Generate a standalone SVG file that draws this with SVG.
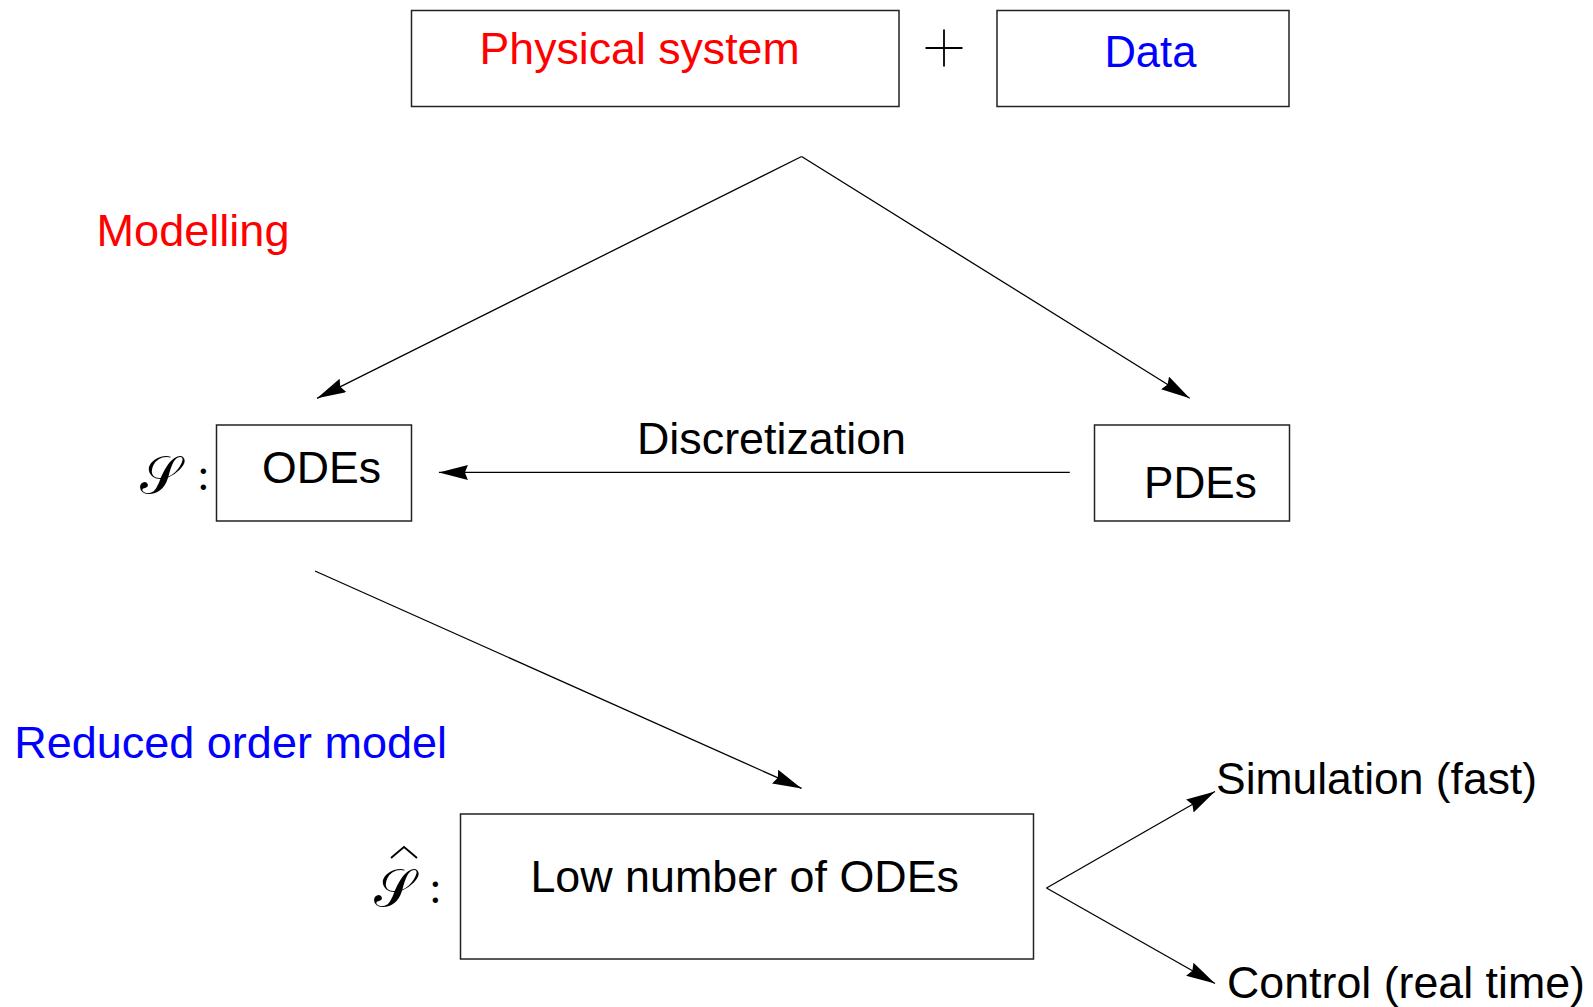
<svg xmlns="http://www.w3.org/2000/svg" width="1593" height="1007" viewBox="0 0 1593 1007">
<style>
.box{fill:#fff;stroke:#222;stroke-width:1.5}
.t{font-family:"Liberation Sans",Arial,sans-serif;font-size:45px;fill:#000}
.red{fill:#ff0000}
.blue{fill:#0000ff}
.con{stroke:#000;stroke-width:1.3;fill:none}
.math{font-family:"DejaVu Serif","Liberation Serif",serif;font-size:52px;fill:#000}
.colon{font-family:"Liberation Serif","Times New Roman",serif;font-size:46px;fill:#000}
</style>
<defs>
<marker id="ah" markerWidth="30" markerHeight="16" refX="29" refY="7.5" orient="auto" markerUnits="userSpaceOnUse">
<path d="M0,0 L29,7.5 L0,15 L3,7.5 Z" fill="#000"/>
</marker>
</defs>
<rect width="1593" height="1007" fill="#fff"/>
<g id="physical">
<rect class="box" x="411.5" y="10.5" width="487.5" height="96"/>
<text class="t red" x="479.6" y="64" textLength="320" lengthAdjust="spacingAndGlyphs">Physical system</text>
</g>
<g id="plus">
<line x1="925.5" y1="48" x2="962.5" y2="48" stroke="#000" stroke-width="1.8"/>
<line x1="944" y1="29.5" x2="944" y2="66.5" stroke="#000" stroke-width="1.8"/>
</g>
<g id="data">
<rect class="box" x="997" y="10.5" width="292" height="96"/>
<text class="t blue" x="1104.4" y="67" textLength="92" lengthAdjust="spacingAndGlyphs">Data</text>
</g>
<g id="modelling">
<text class="t red" x="96.5" y="246" textLength="193" lengthAdjust="spacingAndGlyphs">Modelling</text>
</g>
<g id="odes">
<text class="math" x="140" y="493">𝒮</text>
<text class="colon" x="197" y="490">:</text>
<rect class="box" x="216.5" y="425" width="195" height="96"/>
<text class="t" x="262.1" y="482.6" textLength="119" lengthAdjust="spacingAndGlyphs">ODEs</text>
</g>
<g id="pdes">
<rect class="box" x="1094.5" y="425" width="195" height="96"/>
<text class="t" x="1144" y="497.8" textLength="112.8" lengthAdjust="spacingAndGlyphs">PDEs</text>
</g>
<g id="reduced">
<text class="t blue" x="14.2" y="758" textLength="432.8" lengthAdjust="spacingAndGlyphs">Reduced order model</text>
</g>
<g id="low">
<text class="math" x="374" y="906">𝒮</text>
<path d="M391,858 Q398,852 404,847 Q410,852 417,858" stroke="#000" stroke-width="1.8" fill="none"/>
<text class="colon" x="429" y="903">:</text>
<rect class="box" x="460.5" y="814" width="573" height="145"/>
<text class="t" x="530.4" y="892" textLength="428.6" lengthAdjust="spacingAndGlyphs">Low number of ODEs</text>
</g>
<g id="simulation">
<text class="t" x="1216" y="793.5" textLength="321" lengthAdjust="spacingAndGlyphs">Simulation (fast)</text>
</g>
<g id="control">
<text class="t" x="1227" y="997.7" textLength="358" lengthAdjust="spacingAndGlyphs">Control (real time)</text>
</g>
<g id="discretization-label">
<text class="t" x="637" y="454" textLength="269" lengthAdjust="spacingAndGlyphs">Discretization</text>
</g>
<g id="connectors">
<line class="con" x1="801.6" y1="156.5" x2="317" y2="398.3" marker-end="url(#ah)"/>
<line class="con" x1="801.6" y1="156.5" x2="1189.7" y2="398.3" marker-end="url(#ah)"/>
<line class="con" x1="1069.8" y1="472.4" x2="438.9" y2="472.4" marker-end="url(#ah)"/>
<line class="con" x1="315" y1="571" x2="801.6" y2="788.4" marker-end="url(#ah)"/>
<line class="con" x1="1046.5" y1="888" x2="1215" y2="791.5" marker-end="url(#ah)"/>
<line class="con" x1="1046.5" y1="888" x2="1215" y2="983.5" marker-end="url(#ah)"/>
</g>
</svg>
